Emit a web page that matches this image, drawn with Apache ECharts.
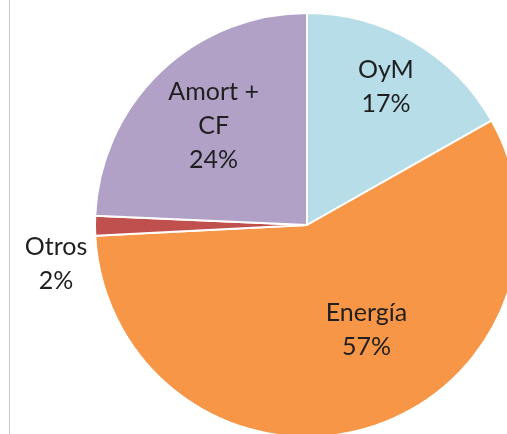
<!DOCTYPE html>
<html>
<head>
<meta charset="utf-8">
<script src="https://cdn.jsdelivr.net/npm/echarts@6/dist/echarts.min.js"></script>
<style>html,body{margin:0;padding:0;background:#fff;}#c{width:507px;height:434px;}</style>
</head>
<body>
<div id="c"></div>
<script>
const categories = ['OyM', 'Energía', 'Otros', 'Amort +\nCF'];
const values = [16.8, 57.4, 1.5, 24.3];
const colors = ['#b7dde8', '#f79646', '#c0504d', '#b2a1c7'];
const labelOffsets = [[24, -44], [29, 0], [-142, 39], [-18, -20]];

const chart = echarts.init(document.getElementById('c'));
chart.setOption({
  animation: false,
  graphic: [{
    type: 'line',
    shape: { x1: 9.5, y1: 0, x2: 9.5, y2: 434 },
    style: { stroke: '#c8c8c8', lineWidth: 1 }
  }],
  series: [{
    type: 'pie',
    center: [307, 225],
    radius: 212,
    startAngle: 90,
    clockwise: true,
    avoidLabelOverlap: false,
    itemStyle: { borderColor: '#ffffff', borderWidth: 2 },
    label: {
      position: 'inside',
      fontFamily: 'Lato, "Open Sans", sans-serif',
      fontSize: 25,
      lineHeight: 34,
      color: '#1f1f1f',
      align: 'center',
      formatter: p => p.name + '\n' + Math.round(p.percent) + '%'
    },
    labelLine: { show: false },
    data: categories.map((c, i) => ({
      name: c,
      value: values[i],
      itemStyle: { color: colors[i] },
      label: { offset: labelOffsets[i] }
    }))
  }]
});
</script>
</body>
</html>
